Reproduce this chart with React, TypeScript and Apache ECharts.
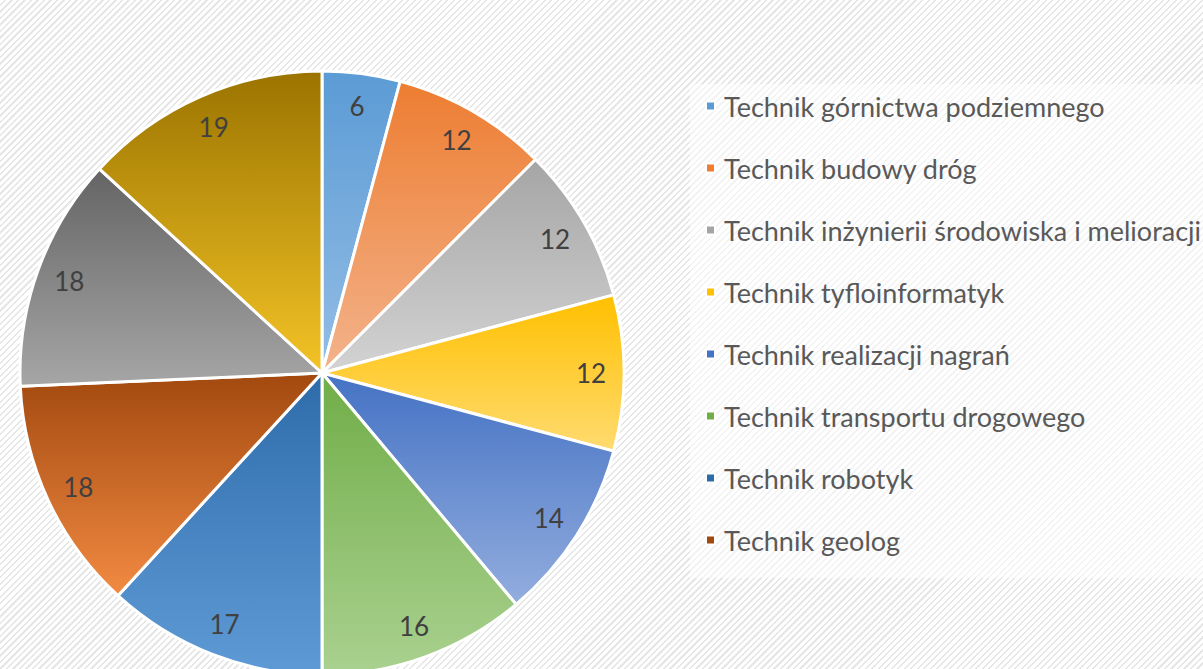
import React, { useEffect, useRef } from "react";
import * as echarts from "echarts";

const categories = [
  "Technik górnictwa podziemnego",
  "Technik budowy dróg",
  "Technik inżynierii środowiska i melioracji",
  "Technik tyfloinformatyk",
  "Technik realizacji nagrań",
  "Technik transportu drogowego",
  "Technik robotyk",
  "Technik geolog",
  "Kierunek 9",
  "Kierunek 10",
];
const values = [6, 12, 12, 12, 14, 16, 17, 18, 18, 19];
const legendNames = categories.slice(0, 8);
const baseColors = ["#5B9BD5", "#ED7D31", "#A5A5A5", "#FFC000", "#4472C4", "#70AD47", "#2E6BAA", "#A2490F", "#646464", "#9B7400"];
const lightColors = ["#94BDE5", "#F3B38C", "#D3D3D3", "#FFDB70", "#93ADDE", "#AAD190", "#5E9BD6", "#F28A42", "#A6A6A6", "#F3C326"];

export default function App() {
  const ref = useRef<HTMLDivElement>(null);
  useEffect(() => {
    if (!ref.current) return;
    const chart = echarts.init(ref.current, undefined, { renderer: "svg" });
    const font = "Lato, 'Open Sans', sans-serif";
    const data = categories.map((name, i) => ({
      name,
      value: values[i],
      itemStyle: {
        color: new echarts.graphic.LinearGradient(0, 0, 0, 1, [
          { offset: 0, color: baseColors[i] },
          { offset: 1, color: lightColors[i] },
        ]),
      },
    }));
    chart.setOption({
      animation: false,
      backgroundColor: "transparent",
      graphic: [
        {
          type: "rect",
          z: -10,
          shape: { x: 690, y: 84, width: 513, height: 494 },
          style: { fill: "rgba(255,255,255,0.5)" },
        },
      ],
      legend: {
        orient: "vertical",
        left: 700,
        top: 86,
        icon: "rect",
        itemWidth: 9,
        itemHeight: 9,
        itemGap: 32,
        data: legendNames.map((n, i) => ({ name: n, itemStyle: { color: baseColors[i] } })),
        textStyle: {
          fontFamily: font,
          fontSize: 27,
          lineHeight: 30,
          color: "#595959",
          padding: [0, 0, 0, 4],
        },
      },
      series: [
        {
          type: "pie",
          center: [322, 373],
          radius: [0, 302],
          startAngle: 90,
          clockwise: true,
          label: { show: false },
          labelLine: { show: false },
          itemStyle: { borderColor: "#ffffff", borderWidth: 3 },
          data,
          silent: true,
        },
        {
          type: "pie",
          center: [322, 373],
          radius: [230, 302],
          startAngle: 90,
          clockwise: true,
          silent: true,
          itemStyle: { color: "rgba(0,0,0,0)", borderWidth: 0 },
          label: {
            show: true,
            position: "inside",
            formatter: "{c}",
            fontFamily: font,
            fontSize: 26,
            color: "#404040",
          },
          labelLine: { show: false },
          data: categories.map((name, i) => ({ name, value: values[i] })),
        },
      ],
    });
    return () => chart.dispose();
  }, []);
  return (
    <div
      style={{
        position: "fixed",
        left: 0,
        top: 0,
        width: 1203,
        height: 669,
        background:
          "repeating-linear-gradient(135deg, #ffffff 0px, #ffffff 3px, #e6e6e6 3px, #e6e6e6 4.6px)",
      }}
    >
      <div ref={ref} style={{ width: 1203, height: 669 }} />
    </div>
  );
}
